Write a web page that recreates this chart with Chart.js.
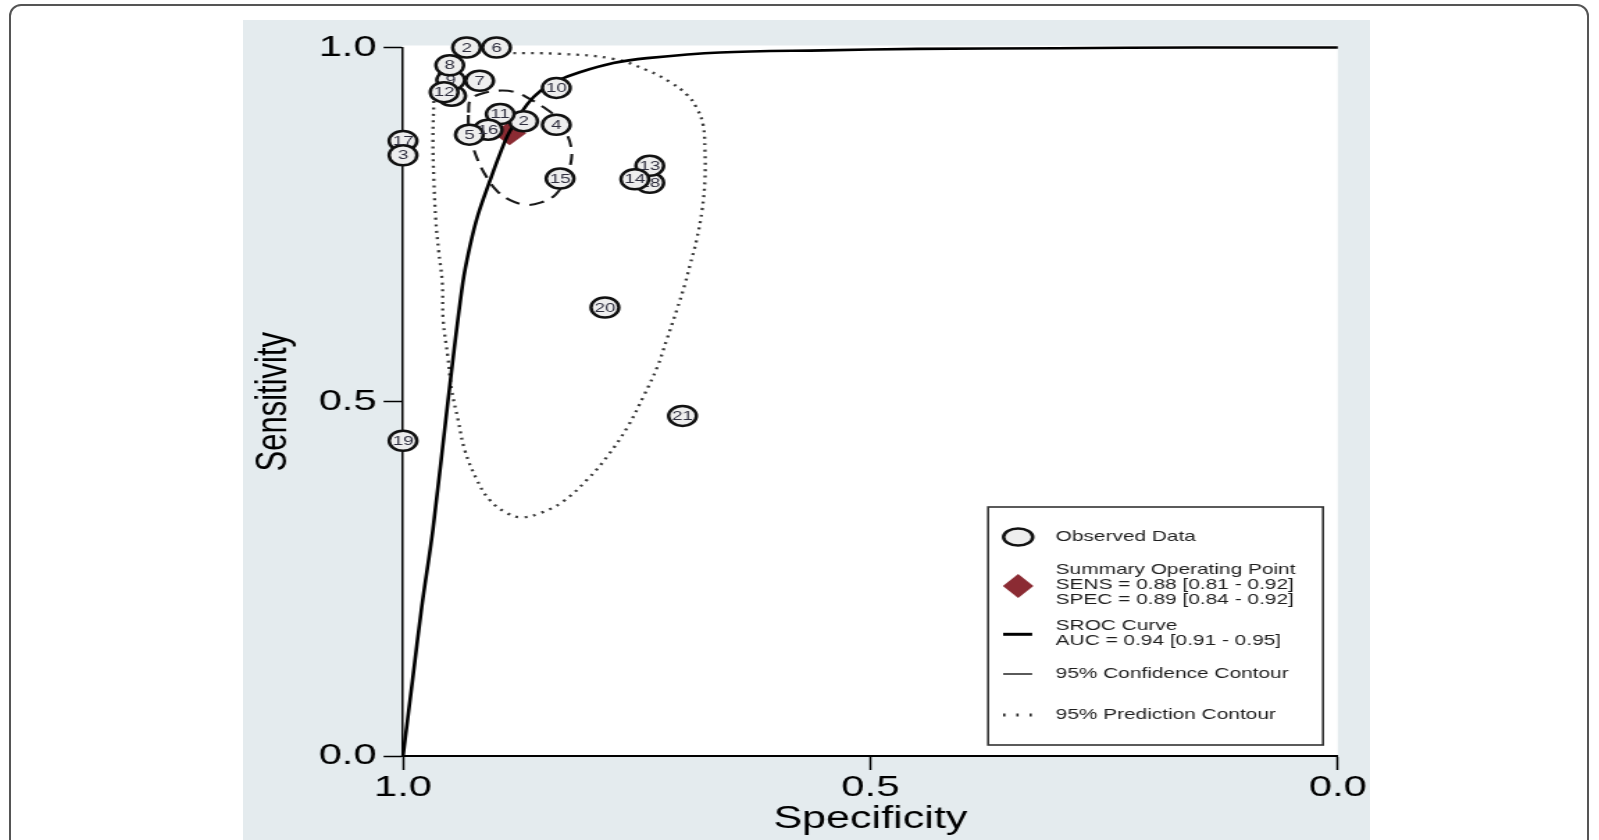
<!DOCTYPE html>
<html><head><meta charset="utf-8">
<script src="https://cdn.jsdelivr.net/npm/chart.js@4.4.1/dist/chart.umd.min.js"></script>
<style>
html,body{margin:0;padding:0;background:#fff;width:1599px;height:840px;overflow:hidden;}
#frame{position:absolute;left:9px;top:4px;width:1580px;height:900px;border:2px solid #555;border-radius:12px;box-sizing:border-box;}
#wrap{position:absolute;left:243px;top:20px;width:811px;height:820px;transform:scaleX(1.38964);transform-origin:0 0;}
</style></head>
<body>
<div id="frame"></div>
<div id="wrap"><canvas id="c"></canvas></div>
<script>
const FONT = "'Liberation Sans', Arial, Helvetica, sans-serif";

// axis ticks
const axisTicks = [0, 0.5, 1];
const tickLabels = ['0.0', '0.5', '1.0'];

// SROC curve (specificity, sensitivity)
const srocSpec = [1.0, 0.990, 0.980, 0.968, 0.952, 0.936, 0.928, 0.920, 0.907, 0.896, 0.886, 0.867, 0.852, 0.835, 0.811, 0.775, 0.739, 0.661, 0.550, 0.450, 0.300, 0.150, 0.0];
const srocSens = [0.0, 0.105, 0.21, 0.32, 0.50, 0.668, 0.722, 0.763, 0.812, 0.851, 0.881, 0.920, 0.940, 0.953, 0.965, 0.978, 0.985, 0.993, 0.996, 0.998, 0.999, 1.0, 1.0];

// 95% confidence contour
const confSpec = [0.930, 0.928, 0.918, 0.899, 0.880, 0.864, 0.850, 0.837, 0.827, 0.820, 0.821, 0.827, 0.837, 0.853, 0.869, 0.886, 0.899, 0.910, 0.920, 0.927, 0.930, 0.930];
const confSens = [0.908, 0.926, 0.934, 0.939, 0.937, 0.927, 0.916, 0.903, 0.884, 0.858, 0.834, 0.813, 0.792, 0.781, 0.778, 0.785, 0.797, 0.816, 0.841, 0.869, 0.891, 0.908];

// 95% prediction contour
const predSpec = [0.967, 0.960, 0.948, 0.928, 0.889, 0.832, 0.775, 0.739, 0.714, 0.696, 0.686, 0.679, 0.677, 0.677, 0.680, 0.686, 0.693, 0.698, 0.707, 0.718, 0.728, 0.743, 0.760, 0.782, 0.803, 0.829, 0.853, 0.873, 0.889, 0.907, 0.921, 0.934, 0.941, 0.948, 0.952, 0.957, 0.958, 0.962, 0.965, 0.967, 0.968, 0.967];
const predSens = [0.926, 0.968, 0.987, 0.992, 0.992, 0.991, 0.984, 0.968, 0.951, 0.933, 0.915, 0.891, 0.855, 0.813, 0.771, 0.728, 0.693, 0.668, 0.630, 0.587, 0.549, 0.507, 0.464, 0.422, 0.390, 0.359, 0.343, 0.337, 0.343, 0.361, 0.390, 0.432, 0.474, 0.517, 0.563, 0.615, 0.668, 0.714, 0.757, 0.813, 0.869, 0.926];

// observed studies, partially hidden ones
const backIds = ['1', '9', '18'];
const backSpec = [0.948, 0.949, 0.736];
const backSens = [0.932, 0.954, 0.809];

// observed studies, front
const frontIds = ['2', '6', '8', '7', '12', '10', '2', '11', '4', '16', '5', '15', '13', '14', '17', '3', '19', '20', '21'];
const frontSpec = [0.932, 0.900, 0.950, 0.918, 0.956, 0.836, 0.871, 0.896, 0.836, 0.909, 0.929, 0.832, 0.736, 0.752, 1.0, 1.0, 1.0, 0.784, 0.701];
const frontSens = [1.0, 1.0, 0.975, 0.953, 0.937, 0.943, 0.896, 0.906, 0.891, 0.884, 0.877, 0.815, 0.833, 0.814, 0.868, 0.848, 0.445, 0.633, 0.480];

// summary operating point
const summarySpec = [0.886];
const summarySens = [0.879];

// legend text
const legendLabels = [
  ['Observed Data'],
  ['Summary Operating Point', 'SENS = 0.88 [0.81 - 0.92]', 'SPEC = 0.89 [0.84 - 0.92]'],
  ['SROC Curve', 'AUC = 0.94 [0.91 - 0.95]'],
  ['95% Confidence Contour'],
  ['95% Prediction Contour']
];

const pts = (xs, ys) => xs.map((x, i) => ({x: x, y: ys[i]}));
const DIAMOND = '#8b2b33';
const PANEL = '#e4ebee';

const bgPlugin = {
  id: 'bg',
  beforeDraw(chart) {
    const {ctx, chartArea: a, width, height} = chart;
    ctx.save();
    ctx.fillStyle = PANEL;
    ctx.fillRect(0, 0, width, height);
    ctx.fillStyle = '#ffffff';
    ctx.fillRect(a.left, a.top - 2, a.right - a.left, a.bottom - a.top + 2);
    ctx.restore();
  }
};

const labelPlugin = {
  id: 'studyLabels',
  afterDatasetDraw(chart, args) {
    const ds = chart.data.datasets[args.index];
    if (!ds.ids) return;
    const ctx = chart.ctx;
    ctx.save();
    ctx.font = '13.5px ' + FONT;
    ctx.fillStyle = '#2e2e3e';
    ctx.textAlign = 'center';
    ctx.textBaseline = 'middle';
    args.meta.data.forEach((el, i) => ctx.fillText(ds.ids[i], el.x, el.y + 0.5));
    ctx.restore();
  }
};

const legendPlugin = {
  id: 'srocLegend',
  afterDraw(chart) {
    const {ctx, chartArea: a} = chart;
    const w = 241, h = 238;
    const bx = a.right - 10.6 - w, by = a.bottom - 11 - h;
    ctx.save();
    ctx.fillStyle = '#fff';
    ctx.fillRect(bx, by, w, h);
    ctx.strokeStyle = '#333';
    ctx.lineWidth = 1.6;
    ctx.strokeRect(bx, by, w, h);
    const sx = bx + 21.6, tx = bx + 48.6;
    // observed data symbol
    ctx.beginPath();
    ctx.ellipse(sx, by + 30, 10.5, 8.5, 0, 0, Math.PI * 2);
    ctx.fillStyle = '#eeeeee';
    ctx.fill();
    ctx.lineWidth = 2.5;
    ctx.strokeStyle = '#111';
    ctx.stroke();
    // diamond
    ctx.beginPath();
    ctx.moveTo(sx - 11, by + 79);
    ctx.lineTo(sx, by + 67);
    ctx.lineTo(sx + 11, by + 79);
    ctx.lineTo(sx, by + 91);
    ctx.closePath();
    ctx.fillStyle = DIAMOND;
    ctx.fill();
    // sroc line
    ctx.beginPath();
    ctx.lineWidth = 3;
    ctx.strokeStyle = '#000';
    ctx.moveTo(bx + 10.8, by + 127.3);
    ctx.lineTo(bx + 31.7, by + 127.3);
    ctx.stroke();
    // confidence line
    ctx.beginPath();
    ctx.lineWidth = 1.3;
    ctx.moveTo(bx + 10.8, by + 167);
    ctx.lineTo(bx + 31.7, by + 167);
    ctx.stroke();
    // prediction dots
    ctx.fillStyle = '#222';
    [0, 1, 2].forEach(k => ctx.fillRect(bx + 10.8 + k * 9.5, by + 206.5, 1.6, 3));
    // texts
    ctx.font = '15px ' + FONT;
    ctx.fillStyle = '#1e1e1e';
    ctx.textAlign = 'left';
    ctx.textBaseline = 'middle';
    const starts = [30, 63, 119, 167, 208];
    legendLabels.forEach((lines, i) => {
      lines.forEach((t, j) => ctx.fillText(t, tx, by + starts[i] + j * 15));
    });
    ctx.restore();
  }
};

new Chart(document.getElementById('c'), {
  type: 'scatter',
  data: {
    datasets: [
      {ids: frontIds, data: pts(frontSpec, frontSens), pointRadius: 10, pointBorderWidth: 2.5,
       pointBackgroundColor: '#eeeeee', pointBorderColor: '#111', order: 0, clip: false},
      {ids: backIds, data: pts(backSpec, backSens), pointRadius: 10, pointBorderWidth: 2.5,
       pointBackgroundColor: '#eeeeee', pointBorderColor: '#111', order: 1, clip: false},
      {type: 'line', data: pts(srocSpec, srocSens), pointRadius: 0, borderColor: '#000', fill: false,
       borderWidth: 2.6, tension: 0.35, order: 2, clip: false},
      {data: pts(summarySpec, summarySens), pointStyle: 'rectRot', pointRadius: 12,
       pointBackgroundColor: DIAMOND, pointBorderColor: DIAMOND, pointBorderWidth: 0, order: 3, clip: false},
      {type: 'line', data: pts(confSpec, confSens), pointRadius: 0, borderColor: '#1a1a1a', fill: false,
       borderWidth: 2.1, borderDash: [11, 7], tension: 0.4, order: 4, clip: false},
      {type: 'line', data: pts(predSpec, predSens), pointRadius: 0, borderColor: '#3a3a3a', fill: false,
       borderWidth: 2.3, borderDash: [2, 4.5], tension: 0.4, order: 5, clip: false}
    ]
  },
  options: {
    responsive: true,
    maintainAspectRatio: false,
    animation: false,
    events: [],
    layout: {padding: {top: 27.5, right: 23.2, bottom: 0, left: 0}},
    plugins: {legend: {display: false}, tooltip: {enabled: false}},
    scales: {
      x: {
        type: 'linear', min: 0, max: 1, reverse: true,
        afterBuildTicks: s => { s.ticks = axisTicks.map(v => ({value: v})); },
        ticks: {callback: v => tickLabels[axisTicks.indexOf(v)], font: {family: FONT, size: 30, lineHeight: 1.15},
                color: '#000', padding: 0, maxRotation: 0, autoSkip: false},
        grid: {drawOnChartArea: false, drawTicks: true, tickLength: 14, tickWidth: 1.5, tickColor: '#000'},
        border: {display: true, color: '#000', width: 2},
        title: {display: true, text: 'Specificity', color: '#000', font: {family: FONT, size: 31},
                padding: {top: 0, bottom: 1.5}},
        afterFit: s => { s.height = 84; }
      },
      y: {
        type: 'linear', min: 0, max: 1,
        afterBuildTicks: s => { s.ticks = axisTicks.map(v => ({value: v})); },
        ticks: {callback: v => tickLabels[axisTicks.indexOf(v)], font: {family: FONT, size: 30},
                color: '#000', padding: 5, autoSkip: false},
        grid: {drawOnChartArea: false, drawTicks: true, tickLength: 14, tickWidth: 1.5, tickColor: '#000'},
        border: {display: true, color: '#000', width: 1.5},
        title: {display: true, text: 'Sensitivity', color: '#000', font: {family: FONT, size: 31},
                padding: {top: 3.7, bottom: 0}},
        afterFit: s => { s.width = 115.14; }
      }
    }
  },
  plugins: [bgPlugin, labelPlugin, legendPlugin]
});
</script>
</body></html>
